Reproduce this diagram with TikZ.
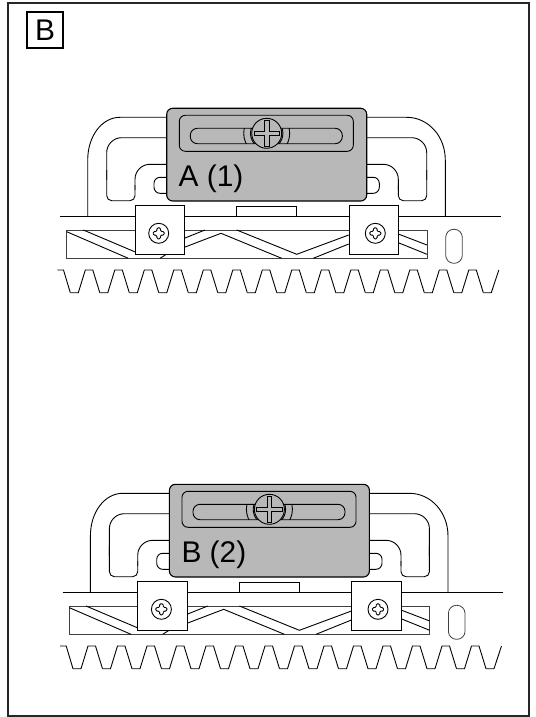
\documentclass[tikz,border=0pt]{standalone}
\usepackage{fontspec}
\setmainfont{Liberation Sans}
\usetikzlibrary{calc,positioning}

\tikzset{
	part/.style={draw=black,line width=0.9bp},
	thin part/.style={draw=black!75,line width=0.8bp},
	cover/.style={part,fill=white},
	plate/.style={draw=black,line width=1.1bp,fill=black!28},
	big label/.style={font=\fontsize{30}{31}\selectfont,inner sep=0pt},
	screw/.pic={
		\draw[part,fill=white] (0,0) circle (10);
		\draw[part,rounded corners=1.2bp] (-1.8,-5.5) -- (1.8,-5.5) -- (1.8,-1.8) -- (5.5,-1.8) -- (5.5,1.8) -- (1.8,1.8) -- (1.8,5.5) -- (-1.8,5.5) -- (-1.8,1.8) -- (-5.5,1.8) -- (-5.5,-1.8) -- (-1.8,-1.8) -- cycle;
	},
	gear unit/.pic={
		% bracket behind the plate
		\draw[part] (170,117.3) -- (120,117.3) .. controls (102,117.3) and (87.7,136) .. (87.7,160) -- (87.7,216.7);
		\draw[part] (364,117.3) -- (406.7,117.3) .. controls (428,117.3) and (445.3,136) .. (445.3,160) -- (445.3,216.7);
		\draw[part,rounded corners=15bp] (170,137.7) -| (106.7,180);
		\draw[part,rounded corners=5bp] (106.7,170) |- (135,200.7) -- (135,185);
		\draw[part,rounded corners=15bp] (135,190) |- (170,164.3);
		\draw[part,rounded corners=15bp] (364,137.7) -| (426.7,180);
		\draw[part,rounded corners=5bp] (426.7,170) |- (398.3,200.7) -- (398.3,185);
		\draw[part,rounded corners=15bp] (398.3,190) |- (364,164.3);
		\draw[part,rounded corners=6bp] (170,177.3) -| (154,193.3) -- (170,193.3);
		\draw[part,rounded corners=6bp] (364,177.3) -| (379.3,193.3) -- (364,193.3);
		% rack holder
		\draw[thin part] (66.7,230) rectangle (427,258.3);
		\draw[part] (66.7,231.7) -- (128.3,258.3) (83.3,230) -- (140,254) (160,258.3) -- (170,252);
		\draw[part] (184.3,238.3) -- (205,230) (184.3,247.3) -- (221,233.3) -- (281.7,258.3);
		\draw[part] (236.7,230) -- (296.7,254.3) -- (348.7,235) (313.3,258.3) -- (348.7,244);
		\draw[part] (398.3,234) -- (427,245) (398.3,242.7) -- (427,254.3);
		\draw[part] (60,216.7) -- (500.7,216.7);
		\draw[part] (236.7,216.7) |- (296.7,206.7) -- (296.7,216.7);
		\draw[thin part,rounded corners=8bp] (445.7,229.3) rectangle (462.3,263.3);
		% teeth
		\draw[part] (57.3,270) -- (63.5,270) -- (70.3,292.7);
		\foreach \i [evaluate=\i as \x using 70.3+29.5*\i] in {0,...,13}
			\draw[part] (\x,292.7) -- ++(8,0) -- ++(7,-22.7) -- ++(7.5,0) -- ++(7,22.7);
		\draw[part] (483.3,292.7) -- ++(8,0) -- ++(7.5,-22.7);
		% clamps
		\draw[cover] (135,205.3) rectangle (184.3,254);
		\draw[cover] (349,205.3) rectangle (398.3,254);
		\pic at (158.7,233.3) {screw};
		\pic at (375.3,233.3) {screw};
		% adjusting plate
		\draw[plate,rounded corners=6bp] (166.7,108.3) rectangle (366.7,201);
		\draw[part,rounded corners=6bp] (179.3,115.3) rectangle (353.3,151.3);
		\draw[part,rounded corners=7bp] (190.3,128.3) rectangle (342.3,143.7);
		\begin{scope}
			\clip (190.3,128.3) rectangle (342.3,143.7);
			\draw[part] (266.7,133.3) circle (23);
			\draw[part] (266.7,133.3) circle (16.2);
		\end{scope}
		\draw[part,fill=black!28] (266.7,133.3) circle (15);
		\draw[part,fill=black!28] (264.4,120.5) -- (269,120.5) -- (269,131) -- (279.5,131) -- (279.5,135.6) -- (269,135.6) -- (269,146) -- (264.4,146) -- (264.4,135.6) -- (254,135.6) -- (254,131) -- (264.4,131) -- cycle;
	}
}

\begin{document}
\begin{tikzpicture}[x=1bp,y=-1bp]
	\useasboundingbox (0,0) rectangle (536,717);
	\draw[line width=2bp,draw=black!85] (8,2.7) rectangle (528.7,716);
	\node[draw,line width=1.6bp,minimum size=36bp,inner sep=0pt,font=\fontsize{30}{31}\selectfont] (tag) at (45,30) {B};

	\pic at (0,0) {gear unit};
	\node[big label,anchor=base west] (labelA) at (178.5,186.5) {A (1)};

	\pic at (2.7,376) {gear unit};
	\node[big label,anchor=base west] (labelB) at (181.3,562) {B (2)};
\end{tikzpicture}
\end{document}
